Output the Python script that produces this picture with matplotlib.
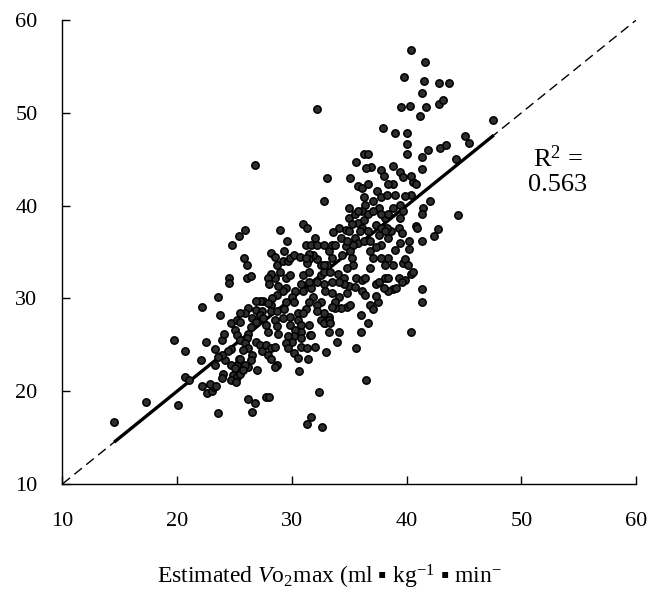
import numpy as np
import matplotlib
matplotlib.use("Agg")
import matplotlib.pyplot as plt

plt.rcParams['font.family'] = ['Liberation Serif', 'DejaVu Serif']
plt.rcParams['mathtext.fontset'] = 'custom'
plt.rcParams['mathtext.rm'] = 'Liberation Serif'
plt.rcParams['mathtext.it'] = 'Liberation Serif:italic'

pts = [
    (14.5, 16.7), (17.3, 18.8), (20.1, 18.5), (19.7, 25.5), (20.7, 24.3), (20.7, 21.5), (21.0, 21.2),
    (22.1, 23.4), (22.2, 29.1), (22.5, 25.3), (22.2, 20.6), (22.6, 19.8), (23.0, 20.0), (23.2, 20.5),
    (23.6, 17.6), (23.6, 30.2), (23.7, 28.2), (23.3, 24.5), (23.3, 22.8), (23.9, 25.5), (24.1, 26.2),
    (24.5, 32.2), (24.5, 31.7), (24.7, 27.3), (24.8, 35.8), (25.4, 36.7), (25.9, 37.4), (25.8, 34.4),
    (26.1, 33.6), (26.1, 32.2), (26.4, 32.4), (26.8, 44.4), (26.2, 19.2), (26.8, 18.7), (26.5, 17.8),
    (27.7, 19.4), (28.0, 19.4), (27.0, 22.3), (26.2, 22.6), (24.9, 21.7), (25.2, 21.5), (25.5, 21.9),
    (24.7, 21.2), (25.1, 21.0), (25.2, 22.8), (25.4, 23.5), (29.0, 37.4), (29.6, 36.2), (28.7, 22.8),
    (28.5, 22.6), (30.6, 22.2), (31.4, 23.5), (31.0, 38.0), (31.3, 37.6), (32.4, 19.9), (31.7, 17.2),
    (31.3, 16.5), (32.6, 16.1), (32.2, 50.4), (32.8, 40.5), (33.1, 43.0), (33.9, 25.3), (33.0, 24.2),
    (32.0, 24.8), (31.6, 26.1), (35.6, 24.7), (36.5, 21.2), (36.0, 26.4), (36.0, 28.2), (36.6, 27.4),
    (35.1, 43.0), (35.6, 44.7), (36.3, 45.6), (36.6, 45.6), (36.9, 44.2), (37.9, 48.4), (39.0, 47.8),
    (38.8, 44.3), (40.0, 47.8), (40.0, 46.6), (40.0, 45.6), (40.4, 56.8), (39.8, 53.9), (39.5, 50.6),
    (40.3, 50.7), (41.6, 55.5), (41.5, 53.4), (41.3, 52.2), (41.2, 49.7), (41.7, 50.6), (42.8, 53.2),
    (43.7, 53.2), (42.8, 51.0), (43.2, 51.4), (41.9, 46.0), (42.9, 46.2), (43.4, 46.5), (45.1, 47.5),
    (45.4, 46.8), (44.3, 45.0), (47.5, 49.2), (44.5, 39.0), (42.7, 37.5), (42.4, 36.7), (40.4, 26.4),
    (41.3, 31.0), (41.3, 29.6), (41.3, 43.9), (41.3, 45.2), (42.0, 40.5), (41.4, 39.8), (41.3, 39.1),
    (41.3, 36.2), (40.8, 37.8), (40.9, 37.6), (40.4, 41.2), (40.6, 42.5), (40.4, 43.2), (40.8, 42.3),
    (39.9, 41.0), (40.4, 32.6), (39.9, 32.0), (40.2, 35.3), (40.2, 36.2), (39.7, 33.8), (39.9, 34.2),
    (38.8, 31.0), (39.1, 31.1), (38.4, 30.8), (38.1, 32.2), (39.0, 35.2), (39.4, 36.0), (38.8, 42.3),
    (39.0, 41.2), (37.8, 43.8), (38.0, 43.2), (37.5, 29.6), (37.1, 34.4), (36.8, 33.3), (37.8, 35.8),
    (38.4, 36.5), (38.6, 37.3), (38.1, 38.7), (38.3, 37.6), (37.6, 39.8), (37.8, 39.1), (37.1, 40.5),
    (36.3, 40.9), (36.4, 40.1), (36.1, 39.4), (36.6, 42.3), (35.8, 42.1), (36.1, 41.9), (35.0, 39.8),
    (34.7, 37.4), (35.0, 37.3), (35.8, 38.1), (36.1, 37.6), (35.5, 36.5), (35.8, 36.0), (36.3, 36.2),
    (36.8, 36.2), (35.2, 34.4), (35.3, 33.6), (34.7, 35.6), (34.4, 34.7), (33.5, 34.4), (33.1, 33.6),
    (34.0, 32.6), (34.5, 32.2), (34.8, 33.3), (35.6, 32.2), (36.1, 32.0), (36.4, 32.2), (35.0, 31.3),
    (35.5, 31.2), (36.1, 30.8), (34.8, 29.1), (34.3, 29.0), (33.8, 29.0), (35.1, 29.3), (34.1, 30.2),
    (33.5, 30.6), (33.8, 29.6), (32.8, 31.5), (32.9, 30.8), (33.2, 28.0), (32.9, 27.3), (32.5, 29.6),
    (32.2, 29.3), (31.8, 30.2), (31.7, 31.1), (32.2, 31.8), (32.5, 32.5), (32.8, 32.9), (32.5, 33.6),
    (32.2, 34.2), (31.8, 34.7), (31.5, 34.8), (31.5, 34.2), (31.3, 33.8), (31.2, 35.8), (31.7, 35.8),
    (32.0, 36.5), (32.2, 35.8), (31.0, 32.5), (31.5, 31.8), (30.8, 31.5), (31.0, 30.8), (30.3, 30.8),
    (30.0, 30.1), (30.2, 29.6), (29.5, 31.1), (29.2, 30.8), (29.5, 32.2), (29.8, 32.5), (29.0, 32.9),
    (28.5, 32.2), (28.7, 33.6), (29.2, 34.0), (29.7, 34.0), (29.8, 34.4), (30.2, 34.7), (30.7, 34.5),
    (31.2, 34.4), (28.2, 34.9), (28.5, 34.5), (29.3, 35.1), (28.2, 32.6), (27.9, 32.2), (28.0, 31.5),
    (28.8, 31.3), (28.7, 30.4), (28.3, 30.0), (28.2, 29.3), (28.2, 28.6), (28.7, 28.6), (28.5, 27.7),
    (28.7, 27.0), (28.8, 26.2), (29.8, 28.0), (29.8, 27.1), (30.5, 28.4), (30.5, 27.7), (30.8, 27.1),
    (30.8, 26.4), (30.3, 26.6), (30.2, 25.9), (30.0, 25.3), (29.7, 25.9), (29.5, 25.2), (29.7, 24.6),
    (31.5, 27.1), (31.7, 26.1), (32.2, 28.6), (32.5, 27.7), (32.8, 27.3), (33.2, 27.7), (27.5, 29.7),
    (27.9, 29.5), (27.2, 29.7), (26.9, 29.7), (26.9, 28.8), (27.4, 28.6), (27.2, 28.2), (27.5, 27.9),
    (27.7, 27.1), (27.9, 26.4), (26.2, 29.0), (25.9, 28.4), (26.5, 27.9), (26.9, 27.5), (26.4, 26.9),
    (26.2, 26.2), (26.1, 25.7), (25.5, 28.4), (25.2, 27.7), (25.5, 27.5), (25.0, 26.6), (25.2, 26.1),
    (25.5, 25.5), (25.9, 25.2), (26.2, 24.6), (26.9, 25.3), (27.2, 25.0), (27.4, 24.3), (27.7, 25.0),
    (28.2, 24.6), (28.5, 24.8), (27.9, 23.9), (28.2, 23.5), (26.5, 23.9), (26.4, 23.4), (25.7, 24.4),
    (25.5, 23.5), (24.7, 24.5), (24.4, 24.3), (24.2, 23.4), (24.7, 22.8), (25.0, 22.5), (23.9, 23.9),
    (23.6, 23.7), (25.9, 22.8), (25.7, 22.3), (24.0, 21.9), (23.9, 21.4), (22.9, 20.8), (23.4, 20.6),
    (30.8, 24.8), (31.3, 24.6), (30.8, 25.7), (30.2, 24.1), (30.5, 23.6), (32.8, 28.4), (33.3, 27.3),
    (33.2, 26.4), (34.1, 26.4), (33.5, 29.1), (36.8, 29.3), (37.1, 28.9), (36.4, 30.4), (37.3, 31.5),
    (37.6, 31.8), (37.3, 30.3), (38.0, 31.1), (34.8, 30.6), (34.5, 31.5), (34.1, 31.8), (33.5, 31.8),
    (35.3, 35.8), (35.1, 35.1), (32.8, 35.8), (33.2, 35.1), (33.5, 35.8), (34.3, 36.5), (34.8, 36.2),
    (35.0, 38.7), (35.2, 38.0), (35.5, 39.1), (35.8, 39.4), (36.3, 38.5), (36.6, 39.1), (37.1, 39.4),
    (37.3, 37.9), (37.8, 37.6), (38.1, 37.3), (38.4, 39.1), (38.8, 39.8), (39.4, 40.1), (39.4, 38.7),
    (39.7, 39.4), (39.3, 37.6), (39.6, 37.1), (37.4, 41.6), (37.8, 40.9), (38.3, 41.2), (38.4, 42.3),
    (39.4, 43.6), (39.7, 43.1), (36.5, 44.1), (40.1, 33.6), (40.6, 32.9), (39.3, 32.2), (39.6, 31.8),
    (38.4, 32.2), (38.1, 33.6), (38.4, 34.4), (38.8, 33.6), (37.8, 34.4), (36.8, 35.1), (37.3, 35.5),
    (37.6, 36.8), (36.6, 37.3), (35.9, 37.3), (34.1, 37.6), (33.6, 37.2), (33.8, 35.8), (32.8, 33.6),
    (33.3, 32.9), (31.5, 32.9), (31.5, 29.6), (31.2, 28.9), (31.0, 28.4), (29.5, 29.6), (29.3, 28.9),
    (29.2, 27.9),
]
est_vo2 = [p[0] for p in pts]
meas_vo2 = [p[1] for p in pts]

fit_x = [14.5, 47.6]
fit_slope, fit_intercept = 1.0, 0.0
r2 = 0.563
ticks = [10, 20, 30, 40, 50, 60]

fig = plt.figure(figsize=(6.51, 5.93), dpi=100)
ax = fig.add_axes([0.096, 0.184, 0.881, 0.782])

ax.plot([10, 60], [10, 60], color='black', lw=1.0, ls=(0, (7, 4)), zorder=1)
ax.scatter(est_vo2, meas_vo2, s=28, facecolor='#2e2e2e', edgecolor='black', linewidths=1.1, zorder=3)
fy = [fit_slope * v + fit_intercept for v in fit_x]
ax.plot(fit_x, fy, color='black', lw=2.4, solid_capstyle='butt', zorder=2)

ax.text(53.2, 43.8, 'R$^{2}$ =\n%.3f' % r2, ha='center', va='center', fontsize=19, linespacing=1.1)

ax.set_xlim(10, 60)
ax.set_ylim(10, 60)
ax.set_xticks(ticks)
ax.set_yticks(ticks)
ax.tick_params(direction='in', length=6, width=1, labelsize=16)
ax.tick_params(axis='x', pad=20)
ax.tick_params(axis='y', pad=18)
for s in ['top', 'right']:
    ax.spines[s].set_visible(False)
for s in ['left', 'bottom']:
    ax.spines[s].set_linewidth(1.0)

ax.set_xlabel('Estimated $\\mathit{V}$o$_{2}$max (ml \u25aa kg$^{-1}$ \u25aa min$^{-}$', fontsize=17)
ax.xaxis.set_label_coords(0.466, -0.17)

fig.savefig('out.png', dpi=100)
